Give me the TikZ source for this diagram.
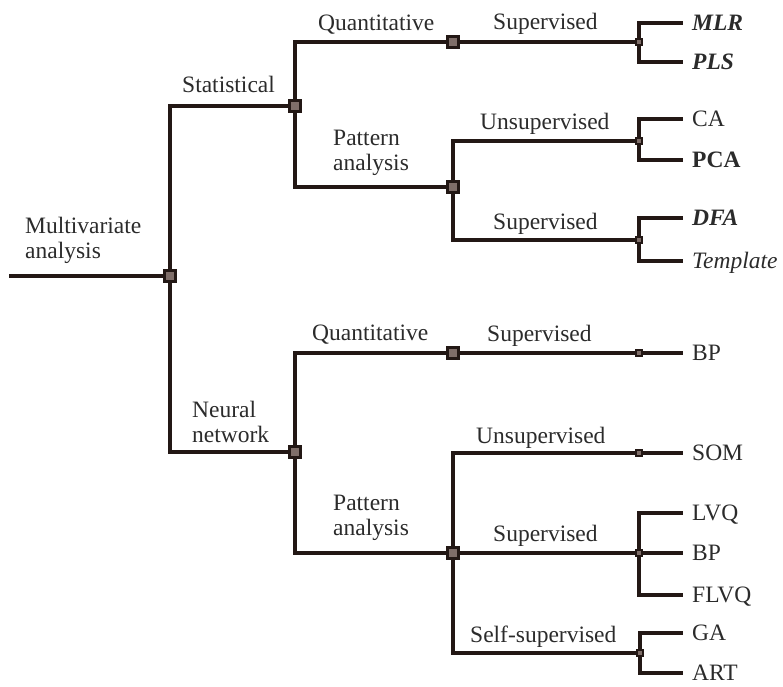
\documentclass[tikz,border=0pt]{standalone}
\usepackage{fontspec}
\setmainfont{Liberation Serif}
\usetikzlibrary{backgrounds}
\definecolor{lc}{HTML}{231815}
\definecolor{bf}{HTML}{7F6E69}
\definecolor{tc}{HTML}{2B2B2B}
\begin{document}
\begin{tikzpicture}[x=1pt,y=-1pt,
  conn/.style={draw=lc,line width=3.2pt,line join=miter},
  bigbox/.style={draw=lc,fill=bf,line width=3pt,minimum size=10.5pt,inner sep=0pt},
  smallbox/.style={draw=lc,fill=bf,line width=2.8pt,minimum size=6pt,inner sep=0pt},
  lbl/.style={anchor=base west,inner sep=0pt,font=\fontsize{23.5}{25}\selectfont,text=tc,align=left},
  leaf/.style={anchor=west,inner xsep=9pt,inner ysep=0pt,text height=15.5pt,text depth=0pt,font=\fontsize{23.5}{25}\selectfont,text=tc}]
\path[use as bounding box] (0,0) rectangle (783,686);
% junction boxes
\coordinate (start) at (9,276);
\node[bigbox] (root) at (170,276) {};
\node[bigbox] (stat) at (295,106) {};
\node[bigbox] (nn) at (295,452) {};
\node[bigbox] (sq) at (453,42) {};
\node[bigbox] (sp) at (453,187) {};
\node[smallbox] (sqs) at (639,42) {};
\node[smallbox] (spu) at (639,141) {};
\node[smallbox] (sps) at (639,240) {};
\node[bigbox] (nq) at (453,353) {};
\node[bigbox] (np) at (453,553) {};
\node[smallbox] (nqs) at (639,353) {};
\node[smallbox] (npu) at (639,453) {};
\node[smallbox] (nps) at (639,553) {};
\node[smallbox] (npx) at (640,653) {};
% leaves
\node[leaf] (mlr) at (683,23) {\textbf{\textit{MLR}}};
\node[leaf] (pls) at (683,62) {\textbf{\textit{PLS}}};
\node[leaf] (ca) at (683,119) {CA};
\node[leaf] (pca) at (683,160) {\textbf{PCA}};
\node[leaf] (dfa) at (683,218) {\textbf{\textit{DFA}}};
\node[leaf] (tmpl) at (683,261) {\textit{Template}};
\node[leaf] (bpa) at (683,353) {BP};
\node[leaf] (som) at (683,453) {SOM};
\node[leaf] (lvq) at (683,513) {LVQ};
\node[leaf] (bpb) at (683,553) {BP};
\node[leaf] (flvq) at (683,595) {FLVQ};
\node[leaf] (ga) at (683,633) {GA};
\node[leaf] (art) at (683,673) {ART};
% branch labels (base = baseline of last line)
\node[lbl] (lmulti) at (25,258) {Multivariate\\analysis};
\node[lbl] (lstat) at (182,92) {Statistical};
\node[lbl] (lsq) at (318,30) {Quantitative};
\node[lbl] (lsqs) at (493,29) {Supervised};
\node[lbl] (lsp) at (333,170) {Pattern\\analysis};
\node[lbl] (lspu) at (480,129) {Unsupervised};
\node[lbl] (lsps) at (493,229) {Supervised};
\node[lbl] (lnn) at (192,442) {Neural\\network};
\node[lbl] (lnq) at (312,340) {Quantitative};
\node[lbl] (lnqs) at (487,341) {Supervised};
\node[lbl] (lnp) at (333,535) {Pattern\\analysis};
\node[lbl] (lnpu) at (476,443) {Unsupervised};
\node[lbl] (lnps) at (493,541) {Supervised};
\node[lbl] (lnpx) at (470,642) {Self-supervised};
% connectors
\begin{scope}[on background layer]
\draw[conn] (start) -- (root.center);
\draw[conn] (root.center) |- (stat.center);
\draw[conn] (root.center) |- (nn.center);
\draw[conn] (stat.center) |- (sq.center);
\draw[conn] (stat.center) |- (sp.center);
\draw[conn] (sq.center) -- (sqs.center);
\draw[conn] (sqs.center) |- (mlr.west);
\draw[conn] (sqs.center) |- (pls.west);
\draw[conn] (sp.center) |- (spu.center);
\draw[conn] (sp.center) |- (sps.center);
\draw[conn] (spu.center) |- (ca.west);
\draw[conn] (spu.center) |- (pca.west);
\draw[conn] (sps.center) |- (dfa.west);
\draw[conn] (sps.center) |- (tmpl.west);
\draw[conn] (nn.center) |- (nq.center);
\draw[conn] (nn.center) |- (np.center);
\draw[conn] (nq.center) -- (nqs.center);
\draw[conn] (nqs.center) -- (bpa.west);
\draw[conn] (np.center) |- (npu.center);
\draw[conn] (np.center) -- (nps.center);
\draw[conn] (np.center) |- (npx.center);
\draw[conn] (npu.center) -- (som.west);
\draw[conn] (nps.center) |- (lvq.west);
\draw[conn] (nps.center) -- (bpb.west);
\draw[conn] (nps.center) |- (flvq.west);
\draw[conn] (npx.center) |- (ga.west);
\draw[conn] (npx.center) |- (art.west);
\end{scope}
\end{tikzpicture}
\end{document}
